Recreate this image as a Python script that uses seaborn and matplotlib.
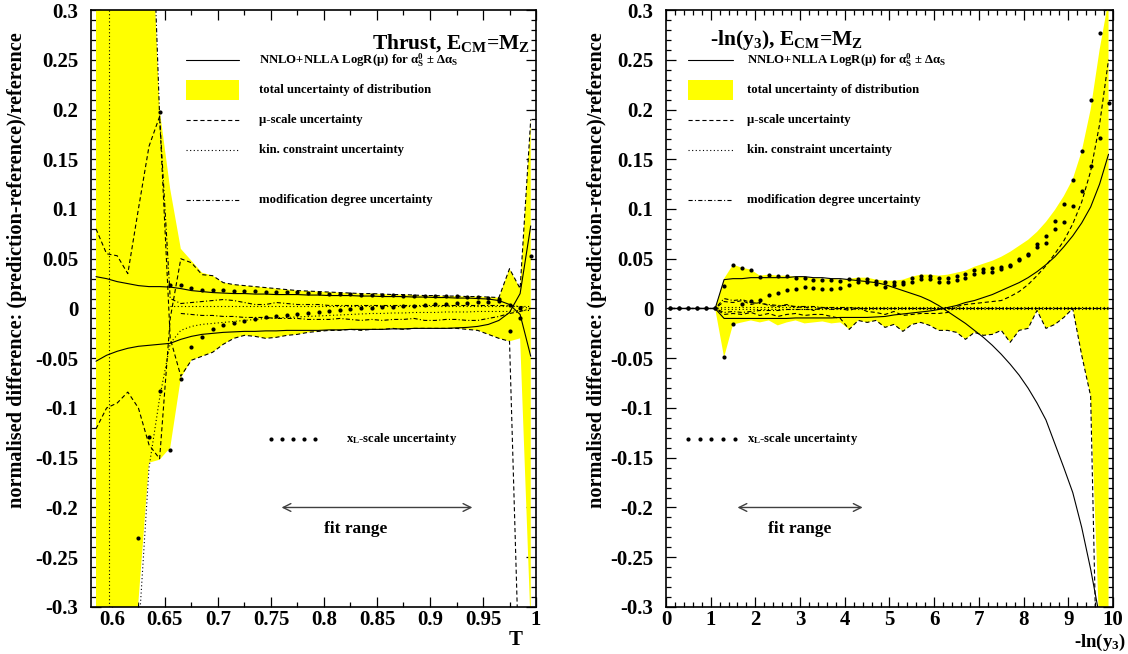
import numpy as np
import matplotlib
matplotlib.use("Agg")
import matplotlib.pyplot as plt
from matplotlib.lines import Line2D
from matplotlib.patches import Rectangle
from matplotlib.ticker import MultipleLocator, FuncFormatter
import seaborn as sns

nan = np.nan

# ---------------------------------------------------------------- Thrust
thrust_bins = np.round(np.arange(0.585, 1.0, 0.01), 3)   # bin centres 0.585 ... 0.995

thrust_band_hi = [0.60, 0.60, 0.60, 0.60, 0.60, 0.45, 0.20, 0.12, 0.060, 0.048, 0.036, 0.033,
                  0.026, 0.024, 0.023, 0.022, 0.021, 0.020, 0.019, 0.018, 0.0175, 0.017, 0.0165,
                  0.016, 0.0155, 0.015, 0.015, 0.0145, 0.014, 0.014, 0.0135, 0.013, 0.013, 0.0125,
                  0.0125, 0.012, 0.012, 0.0115, 0.011, 0.040, 0.020, 0.190]
thrust_band_lo = [-0.40, -0.40, -0.40, -0.38, -0.295, -0.155, -0.152, -0.140, -0.070, -0.052,
                  -0.048, -0.044, -0.036, -0.030, -0.027, -0.028, -0.030, -0.029, -0.027, -0.026,
                  -0.024, -0.023, -0.022, -0.022, -0.021, -0.022, -0.021, -0.021, -0.020, -0.021,
                  -0.020, -0.020, -0.020, -0.020, -0.020, -0.021, -0.022, -0.026, -0.030, -0.033,
                  -0.030, -0.320]
thrust_as_hi = [0.032, 0.030, 0.027, 0.025, 0.023, 0.022, 0.022, 0.0215, 0.020, 0.018, 0.017,
                0.016, 0.0155, 0.015, 0.015, 0.0145, 0.0145, 0.014, 0.014, 0.014, 0.0135, 0.0135,
                0.013, 0.013, 0.013, 0.0125, 0.0125, 0.012, 0.012, 0.012, 0.0115, 0.0115, 0.011,
                0.011, 0.0105, 0.0105, 0.010, 0.0095, 0.008, 0.004, -0.006, -0.048]
thrust_as_lo = [-0.053, -0.047, -0.043, -0.040, -0.038, -0.037, -0.036, -0.035, -0.031, -0.028,
                -0.026, -0.025, -0.024, -0.0235, -0.023, -0.023, -0.0225, -0.0225, -0.022, -0.022,
                -0.022, -0.022, -0.0215, -0.0215, -0.021, -0.021, -0.021, -0.021, -0.0205, -0.0205,
                -0.020, -0.020, -0.020, -0.020, -0.0195, -0.019, -0.018, -0.016, -0.012, -0.004,
                0.015, 0.083]
thrust_mu_a = [0.080, 0.055, 0.053, 0.035, 0.100, 0.163, 0.193, -0.030, -0.068, -0.052, -0.048,
               -0.044, -0.036, -0.030, -0.027, -0.028, -0.030, -0.029, -0.027, -0.026, -0.024,
               -0.023, -0.022, -0.022, -0.021, -0.022, -0.021, -0.021, -0.020, -0.021, -0.020,
               -0.020, -0.020, -0.020, -0.020, -0.021, -0.022, -0.026, -0.030, -0.033, -0.40, -0.40]
thrust_mu_b = [-0.121, -0.100, -0.095, -0.084, -0.100, -0.137, -0.151, -0.010, 0.050, 0.046, 0.034,
               0.033, 0.026, 0.024, 0.023, 0.022, 0.021, 0.020, 0.019, 0.018, 0.0175, 0.017, 0.0165,
               0.016, 0.0155, 0.015, 0.015, 0.0145, 0.014, 0.014, 0.0135, 0.013, 0.013, 0.0125,
               0.0125, 0.012, 0.012, 0.0115, 0.011, 0.040, 0.020, 0.190]
thrust_kin_hi = [nan, nan, nan, nan, nan, nan, nan, 0.003, 0.003, 0.003, 0.003, 0.003, 0.003,
                 0.003, 0.003, 0.003, 0.003, 0.003, 0.003, 0.003, 0.003, 0.003, 0.003, 0.003,
                 0.003, 0.003, 0.003, 0.003, 0.003, 0.003, 0.003, 0.003, 0.003, 0.003, 0.003,
                 0.003, 0.003, 0.003, 0.003, 0.003, 0.003, 0.003]
thrust_kin_lo = [nan, nan, nan, nan, -0.33, -0.16, -0.09, -0.035, -0.022, -0.018, -0.016, -0.015,
                 -0.014, -0.013, -0.012, -0.011, -0.010, -0.0095, -0.009, -0.0085, -0.008, -0.0075,
                 -0.007, -0.0065, -0.006, -0.0055, -0.005, -0.005, -0.0045, -0.0045, -0.004, -0.004,
                 -0.004, -0.0035, -0.0035, -0.0035, -0.003, -0.003, -0.003, -0.003, -0.002, -0.002]
thrust_kin_limit = 0.597
thrust_mod_hi = [0.5, 0.5, 0.5, 0.5, 0.5, 0.5, 0.193, 0.010, 0.005, 0.006, 0.007, 0.008, 0.009,
                 0.008, 0.006, 0.004, 0.004, 0.006, 0.005, 0.004, 0.004, 0.004, 0.003, 0.003, 0.003,
                 0.003, 0.003, 0.003, 0.003, 0.003, 0.003, 0.003, 0.003, 0.003, 0.003, 0.003, 0.003,
                 0.003, 0.003, 0.003, 0.002, 0.0]
thrust_mod_lo = [nan, nan, nan, nan, nan, nan, nan, nan, -0.005, -0.006, -0.007, -0.007, -0.008,
                 -0.008, -0.009, -0.009, -0.009, -0.010, -0.010, -0.010, -0.011, -0.011, -0.011,
                 -0.010, -0.011, -0.012, -0.011, -0.012, -0.011, -0.011, -0.010, -0.012, -0.012,
                 -0.011, -0.011, -0.012, -0.012, -0.010, -0.008, -0.005, -0.003, 0.0]
thrust_xl_hi = [nan, nan, nan, nan, nan, nan, 0.197, 0.024, 0.024, 0.021, 0.019, 0.019, 0.019,
                0.018, 0.018, 0.0177, 0.0167, 0.0167, 0.0167, 0.0167, 0.016, 0.0157, 0.015, 0.015,
                0.0143, 0.014, 0.014, 0.0137, 0.0133, 0.013, 0.013, 0.0125, 0.0125, 0.0125, 0.0125,
                0.0117, 0.0117, 0.0107, 0.0100, 0.004, 0.0, 0.053]
thrust_xl_lo = [nan, nan, nan, nan, -0.231, -0.129, -0.083, -0.142, -0.071, -0.039, -0.029,
                -0.021, -0.017, -0.015, -0.013, -0.011, -0.009, -0.0075, -0.0065, -0.0055, -0.0045,
                -0.004, -0.003, -0.002, -0.001, 0.0, 0.0005, 0.001, 0.002, 0.0025, 0.003, 0.004,
                0.0045, 0.005, 0.0055, 0.006, 0.0065, 0.007, 0.0075, -0.023, -0.010, nan]
thrust_fit_range = (0.76, 0.94)
thrust_fit_label_x = 0.83

# ---------------------------------------------------------------- -ln(y3)
y3_bins = np.round(np.arange(0.1, 10.0, 0.2), 1)   # bin centres 0.1 ... 9.9

zero6 = [0.0] * 6
y3_band_hi = zero6 + [0.030, 0.044, 0.041, 0.039, 0.033, 0.034, 0.033, 0.033, 0.032, 0.032, 0.031,
                      0.030, 0.030, 0.029, 0.030, 0.031, 0.031, 0.029, 0.028, 0.028, 0.029, 0.032,
                      0.034, 0.034, 0.033, 0.034, 0.036, 0.038, 0.042, 0.045, 0.048, 0.052, 0.057,
                      0.063, 0.069, 0.077, 0.087, 0.099, 0.113, 0.130, 0.158, 0.200, 0.260, 0.310]
y3_band_lo = zero6 + [-0.049, -0.016, -0.014, -0.012, -0.014, -0.012, -0.017, -0.014, -0.012,
                      -0.015, -0.014, -0.013, -0.015, -0.014, -0.021, -0.012, -0.014, -0.012,
                      -0.019, -0.016, -0.023, -0.016, -0.014, -0.017, -0.022, -0.022, -0.024,
                      -0.031, -0.024, -0.027, -0.026, -0.022, -0.034, -0.022, -0.020, -0.002,
                      -0.020, -0.016, -0.009, 0.0, -0.047, -0.088, -0.33, -0.35]
y3_as_hi = zero6 + [0.029, 0.030, 0.030, 0.031, 0.031, 0.031, 0.031, 0.031, 0.032, 0.032, 0.031,
                    0.031, 0.030, 0.030, 0.029, 0.028, 0.027, 0.026, 0.024, 0.021, 0.018, 0.015,
                    0.012, 0.008, 0.003, -0.003, -0.009, -0.015, -0.022, -0.029, -0.037, -0.046,
                    -0.056, -0.067, -0.080, -0.095, -0.112, -0.136, -0.160, -0.185, -0.220, -0.262,
                    -0.310, -0.370]
y3_as_lo = zero6 + [-0.010, -0.010, -0.010, -0.010, -0.010, -0.010, -0.010, -0.010, -0.0095,
                    -0.0095, -0.0095, -0.0095, -0.0095, -0.009, -0.009, -0.009, -0.009, -0.0085,
                    -0.008, -0.0065, -0.0055, -0.0045, -0.0035, -0.0025, -0.001, 0.001, 0.003,
                    0.006, 0.008, 0.011, 0.014, 0.018, 0.022, 0.026, 0.031, 0.037, 0.044, 0.052,
                    0.062, 0.073, 0.086, 0.102, 0.125, 0.155]
y3_mu_hi = zero6 + [0.007, 0.006, 0.008, 0.004, 0.006, 0.003, 0.002, 0.004, 0.001, 0.002, -0.002,
                    0.001, -0.001, 0.0, -0.002, 0.001, -0.003, -0.004, -0.006, -0.003, -0.007,
                    -0.006, -0.005, -0.005, -0.005, -0.004, 0.002, 0.004, 0.005, 0.006, 0.007,
                    0.008, 0.012, 0.017, 0.024, 0.033, 0.043, 0.055, 0.068, 0.085, 0.107, 0.138,
                    0.185, 0.250]
y3_mu_lo = zero6 + [-0.006, -0.005, -0.006, -0.004, -0.007, -0.005, -0.008, -0.006, -0.005,
                    -0.007, -0.006, -0.006, -0.008, -0.010, -0.021, -0.012, -0.014, -0.012, -0.019,
                    -0.016, -0.023, -0.016, -0.014, -0.017, -0.022, -0.022, -0.024, -0.031, -0.024,
                    -0.027, -0.026, -0.022, -0.034, -0.022, -0.020, -0.002, -0.020, -0.016, -0.009,
                    0.0, -0.047, -0.088, -0.50, -0.50]
y3_kin_hi = zero6 + [0.001] * 44
y3_kin_lo = zero6 + [-0.001] * 44
y3_mod_hi = zero6 + [0.010, 0.008, 0.009, 0.006, 0.005, 0.004, 0.003, 0.003, 0.002, 0.002, 0.002,
                     0.001, 0.001, 0.001, 0.001, 0.0, 0.0, 0.0, 0.0, 0.0, 0.0, 0.0, 0.0, 0.0, 0.0,
                     0.0, 0.0, 0.0, 0.0, 0.0, 0.0, 0.0, 0.0, 0.0, 0.0, 0.0, 0.0, 0.0, 0.0, 0.0, 0.0,
                     0.0, 0.0, 0.0]
y3_mod_lo = zero6 + [-0.004, -0.003, -0.004, -0.003, -0.002, -0.002, -0.002, -0.001, -0.001,
                     -0.001, -0.001, 0.0, 0.0, 0.0, 0.0, 0.0, 0.0, 0.0, 0.0, 0.0, 0.0, 0.0, 0.0, 0.0,
                     0.0, 0.0, 0.0, 0.0, 0.0, 0.0, 0.0, 0.0, 0.0, 0.0, 0.0, 0.0, 0.0, 0.0, 0.0, 0.0,
                     0.0, 0.0, 0.0, 0.0]
y3_xl_hi = zero6 + [0.023, 0.044, 0.041, 0.039, 0.032, 0.034, 0.033, 0.033, 0.031, 0.031, 0.029,
                    0.029, 0.029, 0.028, 0.030, 0.030, 0.030, 0.028, 0.027, 0.027, 0.027, 0.031,
                    0.033, 0.033, 0.031, 0.031, 0.033, 0.035, 0.039, 0.040, 0.041, 0.042, 0.044,
                    0.050, 0.055, 0.065, 0.073, 0.088, 0.105, 0.129, 0.158, 0.210, 0.277, nan]
y3_xl_lo = zero6 + [-0.049, -0.016, 0.005, 0.008, 0.009, 0.014, 0.016, 0.019, 0.020, 0.022, 0.021,
                    0.020, 0.020, 0.021, 0.024, 0.027, 0.027, 0.025, 0.022, 0.024, 0.025, 0.027,
                    0.030, 0.030, 0.027, 0.027, 0.029, 0.031, 0.035, 0.037, 0.037, 0.040, 0.043,
                    0.049, 0.054, 0.062, 0.066, 0.080, 0.087, 0.103, 0.118, 0.143, 0.171, 0.207]
y3_fit_range = (1.6, 4.4)
y3_fit_label_x = 3.0

ylabel = "normalised difference: (prediction-reference)/reference"
legend_texts = [
    "NNLO+NLLA LogR(μ) for α$_{\\rm S}^{\\rm 0}$ ± Δα$_{\\rm S}$",
    "total uncertainty of distribution",
    "μ-scale uncertainty",
    "kin. constraint uncertainty",
    "modification degree uncertainty",
]
xl_text = "x$_{\\rm L}$-scale uncertainty"

# ---------------------------------------------------------------- style
sns.set_theme(style="ticks")
plt.rcParams.update({
    "font.family": ["Liberation Serif", "DejaVu Serif"],
    "font.weight": "bold",
    "mathtext.fontset": "custom",
    "mathtext.rm": "Liberation Serif:bold",
    "mathtext.it": "Liberation Serif:italic:bold",
    "mathtext.bf": "Liberation Serif:bold",
    "mathtext.default": "rm",
    "text.color": "black",
    "axes.labelcolor": "black",
    "axes.edgecolor": "black",
    "axes.linewidth": 1.2,
    "xtick.color": "black",
    "ytick.color": "black",
    "xtick.direction": "in",
    "ytick.direction": "in",
    "xtick.top": True,
    "ytick.right": True,
    "xtick.major.size": 7.5,
    "ytick.major.size": 7.5,
    "xtick.minor.size": 3.8,
    "ytick.minor.size": 3.8,
    "xtick.major.width": 0.9,
    "ytick.major.width": 0.9,
    "xtick.minor.width": 0.9,
    "ytick.minor.width": 0.9,
    "lines.scale_dashes": False,
})

YELLOW = "#ffff00"
LW = 0.8
DASH = (0, (3.0, 2.0))
DOT = (0, (0.8, 1.8))
DASHDOT = (0, (3.0, 1.6, 0.8, 1.6))


def curve(ax, x, y, ls):
    sns.lineplot(x=x, y=np.asarray(y, dtype=float), ax=ax, color="black", linewidth=LW,
                 linestyle=ls, estimator=None, sort=False, legend=False, zorder=3)


def dots(ax, x, y):
    sns.scatterplot(x=x, y=np.asarray(y, dtype=float), ax=ax, color="black", s=9,
                    linewidth=0, legend=False, zorder=4)


def fmt(v, pos):
    v = round(v, 4)
    if abs(v) < 1e-9:
        return "0"
    return "%g" % v


def legend_block(ax, x0, x1, xt, xl_x0, xl_x1, xl_t):
    rows = [0.916, 0.866, 0.816, 0.765, 0.682]
    styles = ["-", "box", DASH, DOT, DASHDOT]
    for y, st, txt in zip(rows, styles, legend_texts):
        if st == "box":
            ax.add_patch(Rectangle((x0, y - 0.017), x1 - x0, 0.034, transform=ax.transAxes,
                                   facecolor=YELLOW, edgecolor="none", zorder=5))
        else:
            ax.add_line(Line2D([x0, x1], [y, y], transform=ax.transAxes, color="black",
                               lw=LW, ls=st, zorder=5))
        ax.text(xt, y, txt, transform=ax.transAxes, fontsize=9.2, va="center", ha="left",
                zorder=5)
    xs = np.linspace(xl_x0, xl_x1, 5)
    ax.scatter(xs, [0.281] * 5, transform=ax.transAxes, s=9, color="black", linewidth=0,
               zorder=5)
    ax.text(xl_t, 0.281, xl_text, transform=ax.transAxes, fontsize=9.2, va="center", ha="left")


def panel(ax, x, band_lo, band_hi, as_hi, as_lo, mu_a, mu_b, kin_hi, kin_lo, mod_hi, mod_lo,
          xl_hi, xl_lo, fit_range, fit_x):
    ax.fill_between(x, band_lo, band_hi, color=YELLOW, linewidth=0, zorder=1)
    for y in (as_hi, as_lo):
        curve(ax, x, y, "-")
    for y in (mu_a, mu_b):
        curve(ax, x, y, DASH)
    for y in (kin_hi, kin_lo):
        curve(ax, x, y, DOT)
    for y in (mod_hi, mod_lo):
        curve(ax, x, y, DASHDOT)
    dots(ax, x, xl_hi)
    dots(ax, x, xl_lo)
    ax.annotate("", xy=(fit_range[0], -0.2), xytext=(fit_range[1], -0.2),
                arrowprops=dict(arrowstyle="<->", color="0.25", lw=1.0,
                                mutation_scale=14, shrinkA=0, shrinkB=0))
    ax.text(fit_x, -0.222, "fit range", ha="center", va="center", fontsize=12.5)
    ax.set_ylim(-0.3, 0.3)
    ax.yaxis.set_major_locator(MultipleLocator(0.05))
    ax.yaxis.set_minor_locator(MultipleLocator(0.01))
    ax.yaxis.set_major_formatter(FuncFormatter(fmt))
    ax.xaxis.set_major_formatter(FuncFormatter(fmt))
    ax.tick_params(which="both", labelsize=15, top=True, right=True)
    ax.tick_params(axis="x", which="major", pad=2.5)
    ax.tick_params(axis="y", which="major", pad=9)
    ax.set_ylabel(ylabel, fontsize=14.6, fontweight="bold")
    ax.set_xlabel("")
    for sp in ax.spines.values():
        sp.set_visible(True)
        sp.set_linewidth(1.2)


fig = plt.figure(figsize=(11.28, 6.54), dpi=100)
ax1 = fig.add_axes([0.0804, 0.0719, 0.3948, 0.9128])
ax2 = fig.add_axes([0.5904, 0.0719, 0.3963, 0.9128])

panel(ax1, thrust_bins, thrust_band_lo, thrust_band_hi, thrust_as_hi, thrust_as_lo,
      thrust_mu_a, thrust_mu_b, thrust_kin_hi, thrust_kin_lo, thrust_mod_hi, thrust_mod_lo,
      thrust_xl_hi, thrust_xl_lo, thrust_fit_range, thrust_fit_label_x)
ax1.axvline(thrust_kin_limit, color="black", lw=LW, ls=DOT, zorder=3)
ax1.set_xlim(0.58, 1.0)
ax1.xaxis.set_major_locator(MultipleLocator(0.05))
ax1.xaxis.set_minor_locator(MultipleLocator(0.025))
ax1.yaxis.set_label_coords(-0.143, 0.564)
ax1.text(0.955, -0.064, "T", transform=ax1.transAxes, ha="center", va="baseline", fontsize=15)
ax1.text(0.986, 0.936, "Thrust, E$_{\\rm CM}$=M$_{\\rm Z}$", transform=ax1.transAxes,
         ha="right", va="baseline", fontsize=15.5)
legend_block(ax1, 0.213, 0.332, 0.378, 0.405, 0.504, 0.573)

panel(ax2, y3_bins, y3_band_lo, y3_band_hi, y3_as_hi, y3_as_lo, y3_mu_hi, y3_mu_lo,
      y3_kin_hi, y3_kin_lo, y3_mod_hi, y3_mod_lo, y3_xl_hi, y3_xl_lo, y3_fit_range,
      y3_fit_label_x)
ax2.set_xlim(0, 10)
ax2.xaxis.set_major_locator(MultipleLocator(1))
ax2.xaxis.set_minor_locator(MultipleLocator(0.2))
ax2.yaxis.set_label_coords(-0.132, 0.564)
ax2.text(1.03, -0.067, "-ln(y$_{\\rm 3}$)", transform=ax2.transAxes, ha="right",
         va="baseline", fontsize=13.5)
ax2.text(0.098, 0.941, "-ln(y$_{\\rm 3}$), E$_{\\rm CM}$=M$_{\\rm Z}$", transform=ax2.transAxes,
         ha="left", va="baseline", fontsize=15.5)
legend_block(ax2, 0.049, 0.150, 0.181, 0.049, 0.154, 0.181)

fig.savefig("out.png", dpi=100)
